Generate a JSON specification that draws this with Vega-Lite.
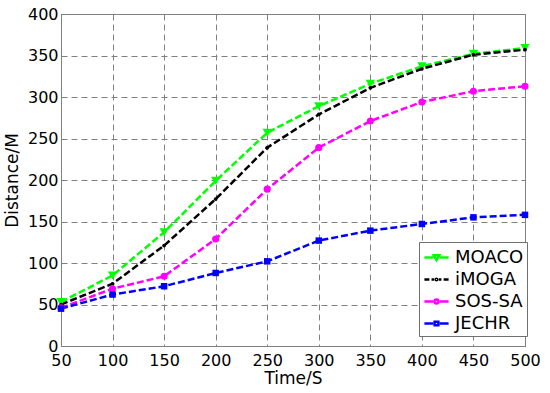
{
  "$schema": "https://vega.github.io/schema/vega-lite/v6.json",
  "width": 464,
  "height": 332,
  "autosize": "none",
  "padding": {"left": 61, "top": 14, "right": 25, "bottom": 47},
  "config": {
    "font": "DejaVu Sans",
    "view": {"stroke": "#808080", "strokeWidth": 1},
    "axis": {
      "labelFont": "DejaVu Sans",
      "labelFontSize": 16,
      "labelColor": "#000000",
      "titleFont": "DejaVu Sans",
      "titleFontSize": 17,
      "titleFontWeight": "normal",
      "titleColor": "#000000",
      "domainColor": "#808080",
      "gridColor": "#808080",
      "gridDash": [6, 4],
      "gridWidth": 1,
      "gridOpacity": 1,
      "ticks": false
    },
    "legend": {
      "title": null,
      "orient": "none",
      "legendX": 358,
      "legendY": 228,
      "padding": 3,
      "rowPadding": 0,
      "symbolSize": 484,
      "symbolOffset": 2,
      "symbolStrokeWidth": 2.5,
      "symbolOpacity": 1,
      "labelOffset": 6,
      "labelFont": "DejaVu Sans",
      "labelFontSize": 18,
      "labelColor": "#000000",
      "strokeColor": "#707070",
      "fillColor": "#ffffff",
      "cornerRadius": 0
    }
  },
  "data": {
    "values": [
      {"t": 50, "d": 53, "s": "MOACO"}, {"t": 100, "d": 85, "s": "MOACO"}, {"t": 150, "d": 137, "s": "MOACO"}, {"t": 200, "d": 199, "s": "MOACO"}, {"t": 250, "d": 257, "s": "MOACO"},
      {"t": 300, "d": 289, "s": "MOACO"}, {"t": 350, "d": 316, "s": "MOACO"}, {"t": 400, "d": 337, "s": "MOACO"}, {"t": 450, "d": 352, "s": "MOACO"}, {"t": 500, "d": 359, "s": "MOACO"},
      {"t": 50, "d": 50, "s": "iMOGA"}, {"t": 100, "d": 75, "s": "iMOGA"}, {"t": 150, "d": 121, "s": "iMOGA"}, {"t": 200, "d": 177, "s": "iMOGA"}, {"t": 250, "d": 239, "s": "iMOGA"},
      {"t": 300, "d": 279, "s": "iMOGA"}, {"t": 350, "d": 311, "s": "iMOGA"}, {"t": 400, "d": 334, "s": "iMOGA"}, {"t": 450, "d": 351, "s": "iMOGA"}, {"t": 500, "d": 357, "s": "iMOGA"},
      {"t": 50, "d": 46, "s": "SOS-SA"}, {"t": 100, "d": 69, "s": "SOS-SA"}, {"t": 150, "d": 84, "s": "SOS-SA"}, {"t": 200, "d": 129, "s": "SOS-SA"}, {"t": 250, "d": 189, "s": "SOS-SA"},
      {"t": 300, "d": 239, "s": "SOS-SA"}, {"t": 350, "d": 271, "s": "SOS-SA"}, {"t": 400, "d": 294, "s": "SOS-SA"}, {"t": 450, "d": 307, "s": "SOS-SA"}, {"t": 500, "d": 313, "s": "SOS-SA"},
      {"t": 50, "d": 45, "s": "JECHR"}, {"t": 100, "d": 62, "s": "JECHR"}, {"t": 150, "d": 72, "s": "JECHR"}, {"t": 200, "d": 88, "s": "JECHR"}, {"t": 250, "d": 102, "s": "JECHR"},
      {"t": 300, "d": 127, "s": "JECHR"}, {"t": 350, "d": 139, "s": "JECHR"}, {"t": 400, "d": 147, "s": "JECHR"}, {"t": 450, "d": 155, "s": "JECHR"}, {"t": 500, "d": 158, "s": "JECHR"}
    ]
  },
  "encoding": {
    "x": {
      "field": "t", "type": "quantitative",
      "scale": {"domain": [50, 500], "nice": false, "zero": false},
      "axis": {"title": "Time/S", "values": [50, 100, 150, 200, 250, 300, 350, 400, 450, 500], "labelPadding": 6, "titlePadding": 2, "labelFlush": false}
    },
    "y": {
      "field": "d", "type": "quantitative",
      "scale": {"domain": [0, 400], "nice": false},
      "axis": {"title": "Distance/M", "values": [0, 50, 100, 150, 200, 250, 300, 350, 400], "labelPadding": 3, "titlePadding": 6}
    }
  },
  "layer": [
    {
      "mark": {"type": "line", "strokeDash": [7, 3], "strokeWidth": 2.5},
      "encoding": {
        "color": {
          "field": "s", "type": "nominal",
          "scale": {"domain": ["MOACO", "iMOGA", "SOS-SA", "JECHR"], "range": ["#00ff00", "#000000", "#ff00ff", "#0000ff"]},
          "legend": null
        }
      }
    },
    {
      "mark": {"type": "point", "filled": true, "opacity": 1},
      "encoding": {
        "color": {
          "field": "s", "type": "nominal",
          "scale": {"domain": ["MOACO", "iMOGA", "SOS-SA", "JECHR"], "range": ["#00ff00", "#000000", "#ff00ff", "#0000ff"]},
          "legend": null
        },
        "shape": {
          "field": "s", "type": "nominal",
          "scale": {"domain": ["MOACO", "iMOGA", "SOS-SA", "JECHR"], "range": ["triangle-down", "circle", "circle", "square"]},
          "legend": null
        },
        "size": {
          "field": "s", "type": "nominal",
          "scale": {"type": "ordinal", "domain": ["MOACO", "iMOGA", "SOS-SA", "JECHR"], "range": [85, 14, 50, 42]},
          "legend": null
        }
      }
    },
    {
      "transform": [{"filter": "datum.t < 0"}],
      "mark": {"type": "point", "filled": false, "strokeWidth": 2.5, "opacity": 1},
      "encoding": {
        "color": {
          "field": "s", "type": "nominal",
          "scale": {"domain": ["MOACO", "iMOGA", "SOS-SA", "JECHR"], "range": ["#00ff00", "#000000", "#ff00ff", "#0000ff"]},
          "legend": {"title": null}
        },
        "shape": {
          "field": "s", "type": "nominal",
          "scale": {
            "domain": ["MOACO", "iMOGA", "SOS-SA", "JECHR"],
            "range": [
              "M-1.1,0H-0.3M0.3,0H1.1M-0.26,-0.2H0.26L0,0.24Z",
              "M-1.1,0H-0.65M-0.45,0H-0.2M0.2,0H0.45M0.65,0H1.1M0.06,0A0.06,0.06,0,1,1,-0.06,0A0.06,0.06,0,1,1,0.06,0Z",
              "M-1.1,0H-0.3M0.3,0H1.1M0.18,0A0.18,0.18,0,1,1,-0.18,0A0.18,0.18,0,1,1,0.18,0Z",
              "M-1.1,0H-0.3M0.3,0H1.1M-0.17,-0.17H0.17V0.17H-0.17Z"
            ]
          },
          "legend": {"title": null}
        }
      }
    }
  ],
  "resolve": {"scale": {"shape": "independent", "color": "independent"}}
}
